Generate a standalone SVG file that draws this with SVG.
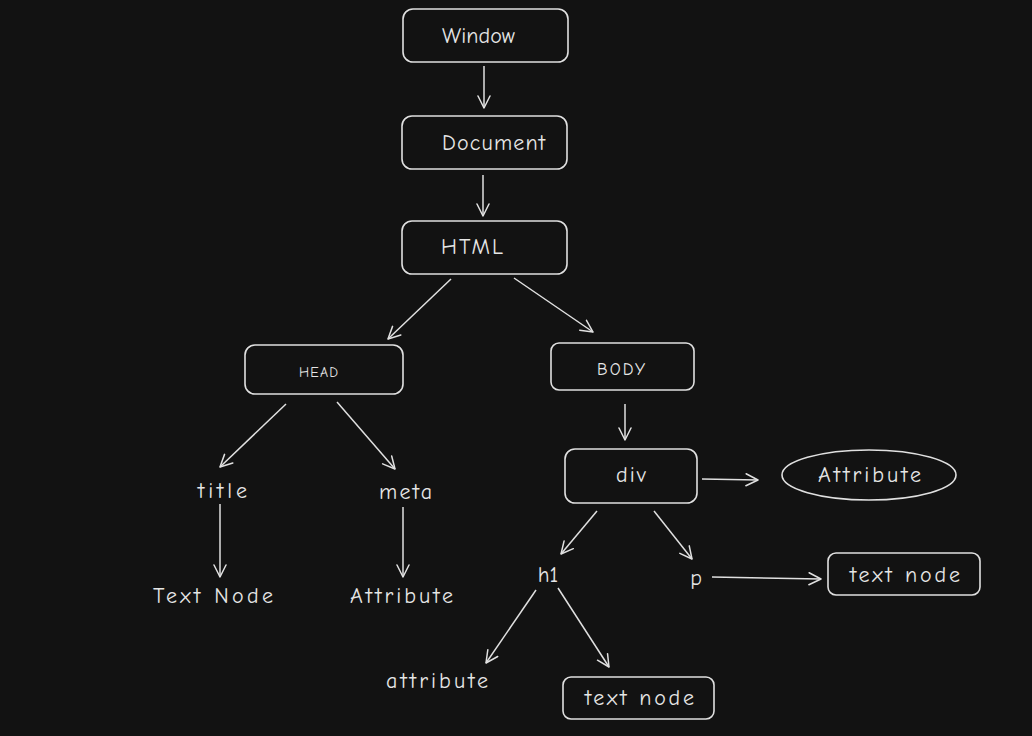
<svg xmlns="http://www.w3.org/2000/svg" width="1032" height="736" viewBox="0 0 1032 736">
<defs>
<marker id="ah" viewBox="0 0 14 14" refX="13" refY="7" markerWidth="14" markerHeight="14" markerUnits="userSpaceOnUse" orient="auto">
<path d="M1,1 L13,7 L1,13" fill="none" stroke="#e0e0e0" stroke-width="1.5" stroke-linecap="round" stroke-linejoin="round"/>
</marker>
<style>
.box{fill:none;stroke:#e0e0e0;stroke-width:1.6}
.t{fill:#e6e6e6;font-family:"Comic Neue","Liberation Sans",sans-serif;font-size:22px;text-anchor:middle;dominant-baseline:central}
.s{font-size:14px}
.c line{stroke:#e0e0e0;stroke-width:1.5;marker-end:url(#ah)}
</style>
</defs>
<rect width="1032" height="736" fill="#121212"/>
<g class="c" id="connectors">
<line x1="484" y1="66" x2="484" y2="108"/>
<line x1="483" y1="175" x2="483" y2="216"/>
<line x1="451" y1="279" x2="388" y2="339"/>
<line x1="514" y1="278" x2="593" y2="332"/>
<line x1="625" y1="404" x2="625" y2="440"/>
<line x1="702" y1="479" x2="758" y2="480"/>
<line x1="597" y1="511" x2="561" y2="554"/>
<line x1="654" y1="511" x2="692" y2="559"/>
<line x1="712" y1="577" x2="821" y2="579"/>
<line x1="536" y1="590" x2="486" y2="663"/>
<line x1="558" y1="588" x2="609" y2="667"/>
<line x1="286" y1="404" x2="220" y2="467"/>
<line x1="337" y1="402" x2="395" y2="469"/>
<line x1="220" y1="504" x2="220" y2="577"/>
<line x1="403" y1="507" x2="403" y2="577"/>
</g>
<g id="window"><rect class="box" x="403" y="9" width="165" height="53" rx="10"/><text class="t" x="478.5" y="36" textLength="73" lengthAdjust="spacing">Window</text></g>
<g id="document"><rect class="box" x="402" y="116" width="165" height="53" rx="10"/><text class="t" x="493.5" y="143" textLength="103" lengthAdjust="spacing">Document</text></g>
<g id="html"><rect class="box" x="402" y="221" width="165" height="53" rx="10"/><text class="t" x="472" y="247" textLength="62" lengthAdjust="spacing">HTML</text></g>
<g id="head"><rect class="box" x="245" y="345" width="158" height="49" rx="10"/><text class="t s" x="318.5" y="372" textLength="39" lengthAdjust="spacing">HEAD</text></g>
<g id="body"><rect class="box" x="551" y="343" width="143" height="47" rx="8"/><text class="t" x="621" y="369" style="font-size:17px" textLength="48" lengthAdjust="spacing">BODY</text></g>
<g id="div"><rect class="box" x="565" y="449" width="132" height="54" rx="10"/><text class="t" x="631" y="475" textLength="30" lengthAdjust="spacing">div</text></g>
<g id="attr-ellipse"><ellipse class="box" cx="869" cy="475" rx="87" ry="25"/><text class="t" x="869.5" y="475" textLength="103" lengthAdjust="spacing">Attribute</text></g>
<g id="h1"><text class="t" x="548" y="575">h1</text></g>
<g id="p"><text class="t" x="696" y="578">p</text></g>
<g id="textnode-p"><rect class="box" x="828" y="553" width="152" height="42" rx="8"/><text class="t" x="905" y="575" textLength="110" lengthAdjust="spacing">text node</text></g>
<g id="attribute-h1"><text class="t" x="437" y="681" textLength="102" lengthAdjust="spacing">attribute</text></g>
<g id="textnode-h1"><rect class="box" x="563" y="677" width="151" height="42" rx="8"/><text class="t" x="639.5" y="698" textLength="109" lengthAdjust="spacing">text node</text></g>
<g id="title"><text class="t" x="222.5" y="491" textLength="49" lengthAdjust="spacing">title</text></g>
<g id="meta"><text class="t" x="405.5" y="492" textLength="53" lengthAdjust="spacing">meta</text></g>
<g id="textnode-title"><text class="t" x="213" y="596" textLength="120" lengthAdjust="spacing">Text Node</text></g>
<g id="attribute-meta"><text class="t" x="401.5" y="596" textLength="103" lengthAdjust="spacing">Attribute</text></g>
</svg>
